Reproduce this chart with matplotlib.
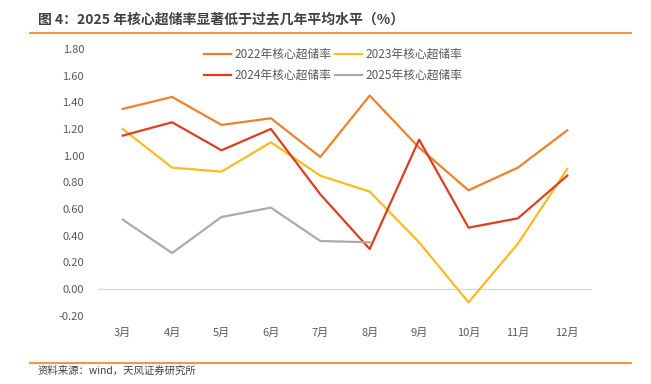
import matplotlib

matplotlib.use("Agg")
import matplotlib.pyplot as plt
from matplotlib.lines import Line2D

plt.rcParams["font.family"] = ["Noto Sans CJK SC", "DejaVu Sans"]

months = ["3月", "4月", "5月", "6月", "7月", "8月", "9月", "10月", "11月", "12月"]
y2022 = [1.35, 1.44, 1.23, 1.28, 0.99, 1.45, 1.06, 0.74, 0.91, 1.19]
y2023 = [1.20, 0.91, 0.88, 1.10, 0.85, 0.73, 0.35, -0.10, 0.34, 0.90]
y2024 = [1.15, 1.25, 1.04, 1.20, 0.71, 0.30, 1.12, 0.46, 0.53, 0.85]
y2025 = [0.52, 0.27, 0.54, 0.61, 0.36, 0.35]
yticks = [-0.2, 0.0, 0.2, 0.4, 0.6, 0.8, 1.0, 1.2, 1.4, 1.6, 1.8]

series = [
    ("2022年核心超储率", y2022, "#F0812A"),
    ("2023年核心超储率", y2023, "#FDBA21"),
    ("2024年核心超储率", y2024, "#DC3F1E"),
    ("2025年核心超储率", y2025, "#ABABAB"),
]

fig = plt.figure(figsize=(6.51, 3.84), dpi=100)
ax = fig.add_axes([98 / 651, 1 - 315.7 / 384, 494 / 651, (315.7 - 48.9) / 384])

x = list(range(len(months)))
lines = {}
for name, vals, color in series:
    (ln,) = ax.plot(x[: len(vals)], vals, color=color, lw=1.6, label=name, zorder=3)
    lines[name] = ln

ax.axhline(0, color="#D9D9D9", lw=1.0, zorder=1)
ax.set_xlim(-0.5, len(months) - 0.5)
ax.set_ylim(-0.2, 1.8)
ax.set_xticks(x)
ax.set_xticklabels(months)
ax.set_yticks(yticks)
ax.set_yticklabels([f"{v:.2f}" for v in yticks])
ax.tick_params(axis="both", length=0, labelsize=8, colors="#595959")
ax.tick_params(axis="y", pad=10)
ax.tick_params(axis="x", pad=9)
for s in ax.spines.values():
    s.set_visible(False)

# ncol=2 fills column by column, so interleave to get 2022/2023 on the top row
order = ["2022年核心超储率", "2024年核心超储率", "2023年核心超储率", "2025年核心超储率"]
leg = fig.legend(
    [lines[k] for k in order], order, ncol=2, frameon=False,
    loc="upper center", bbox_to_anchor=(0.512, 0.903),
    fontsize=8.5, handlelength=2.3, handletextpad=0.3, columnspacing=0.3,
    labelspacing=0.7,
)
for t in leg.get_texts():
    t.set_color("#595959")

fig.text(38 / 651, 1 - 19 / 384, "图 4：2025 年核心超储率显著低于过去几年平均水平（%）",
         fontsize=10, fontweight="bold", color="#404040", va="center", ha="left")
fig.add_artist(Line2D([30 / 651, 631 / 651], [1 - 32.5 / 384] * 2, color="#F28A2E", lw=1.3))
fig.add_artist(Line2D([30 / 651, 631 / 651], [1 - 363 / 384] * 2, color="#F28A2E", lw=1.3))
fig.text(38 / 651, 1 - 371 / 384, "资料来源：wind，天风证券研究所",
         fontsize=7.5, color="#404040", va="center", ha="left")

fig.savefig("out.png", dpi=100)
